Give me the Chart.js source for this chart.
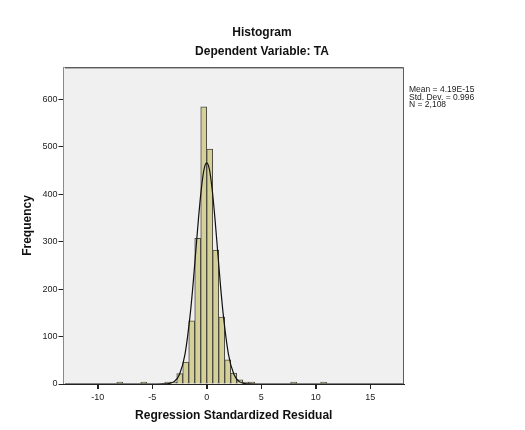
<!DOCTYPE html>
<html>
<head>
<meta charset="utf-8">
<script src="https://cdn.jsdelivr.net/npm/chart.js@4/dist/chart.umd.min.js"></script>
<style>
  html, body { margin: 0; padding: 0; background: #ffffff; }
  #wrap { width: 525px; height: 430px; position: relative; }
</style>
</head>
<body>
<div id="wrap"><canvas id="c" width="525" height="430"></canvas></div>
<script>
// ---- data ----
const binCenters = [-7.975, -5.775, -3.575, -3.025, -2.475, -1.925, -1.375, -0.825, -0.275,
                    0.275, 0.825, 1.375, 1.925, 2.475, 3.025, 3.575, 4.125, 7.975, 10.725];
const binCounts  = [1, 1, 2, 4, 22, 46, 133, 307, 584,
                    495, 282, 141, 51, 23, 9, 3, 2, 1, 1];
const curveX = [-13, -4.5, -4, -3.5, -3, -2.5, -2, -1.5, -1.25, -1, -0.75, -0.5, -0.25, 0,
                0.25, 0.5, 0.75, 1, 1.25, 1.5, 2, 2.5, 3, 3.5, 4, 4.5, 18];
const curveY = [0, 0, 0.2, 1, 5, 20, 62, 150, 211, 281, 350, 410, 452, 466,
                452, 410, 350, 281, 211, 150, 62, 20, 5, 1, 0.2, 0, 0];
const xTickValues = [-10, -5, 0, 5, 10, 15];
const yTickValues = [0, 100, 200, 300, 400, 500, 600];
const titleLines = ['Histogram', 'Dependent Variable: TA'];
const statsLines = ['Mean = 4.19E-15', 'Std. Dev. = 0.996', 'N = 2,108'];
const xTitle = 'Regression Standardized Residual';
const yTitle = 'Frequency';

const FONT = "'Liberation Sans', Arial, sans-serif";

const barData = binCenters.map((x, i) => ({ x: x, y: binCounts[i] }));
const lineData = curveX.map((x, i) => ({ x: x, y: curveY[i] }));

const decor = {
  id: 'decor',
  beforeDatasetsDraw(chart) {
    const { ctx, chartArea: a } = chart;
    ctx.save();
    ctx.fillStyle = '#f0f0f0';
    ctx.fillRect(a.left, a.top, a.right - a.left, a.bottom - a.top);
    ctx.restore();
  },
  afterDraw(chart) {
    const { ctx, chartArea: a } = chart;
    const xs = chart.scales.x;
    ctx.save();
    // x tick marks
    ctx.strokeStyle = '#222';
    ctx.lineWidth = 1;
    xTickValues.forEach(v => {
      const px = Math.round(xs.getPixelForValue(v)) + 0.5;
      ctx.beginPath();
      ctx.moveTo(px, Math.round(a.bottom));
      ctx.lineTo(px, Math.round(a.bottom) + 5);
      ctx.stroke();
    });
    // frame top & right
    ctx.strokeStyle = '#5c5c5c';
    ctx.beginPath();
    ctx.moveTo(Math.round(a.left) + 0.5, Math.round(a.top) + 0.5);
    ctx.lineTo(Math.round(a.right) - 0.5, Math.round(a.top) + 0.5);
    ctx.lineTo(Math.round(a.right) - 0.5, Math.round(a.bottom));
    ctx.stroke();
    ctx.strokeStyle = '#b0b0b0';
    ctx.beginPath();
    ctx.moveTo(Math.round(a.left) + 1, Math.round(a.top) + 1.5);
    ctx.lineTo(Math.round(a.right) - 1, Math.round(a.top) + 1.5);
    ctx.stroke();
    // titles
    ctx.fillStyle = '#111';
    ctx.textAlign = 'center';
    ctx.textBaseline = 'middle';
    ctx.font = 'bold 12px ' + FONT;
    ctx.fillText(titleLines[0], 262, 33);
    ctx.fillText(titleLines[1], 262, 52);
    // stats
    ctx.textAlign = 'left';
    ctx.font = '8.5px ' + FONT;
    ctx.fillStyle = '#222';
    statsLines.forEach((s, i) => ctx.fillText(s, a.right + 5, 90 + i * 7.5));
    ctx.restore();
  }
};

new Chart(document.getElementById('c'), {
  type: 'bar',
  data: {
    datasets: [
      {
        type: 'line',
        data: lineData,
        borderColor: '#111',
        borderWidth: 1.2,
        pointRadius: 0,
        cubicInterpolationMode: 'monotone',
        fill: false,
        order: 0
      },
      {
        type: 'bar',
        data: barData,
        backgroundColor: '#d5cf98',
        borderColor: '#4a4a42',
        borderWidth: 1,
        barPercentage: 1,
        categoryPercentage: 1,
        minBarLength: 2,
        order: 1
      }
    ]
  },
  options: {
    responsive: false,
    animation: false,
    layout: { padding: { top: 67, right: 121, bottom: 0, left: 0 } },
    plugins: { legend: { display: false }, tooltip: { enabled: false }, title: { display: false } },
    scales: {
      x: {
        type: 'linear',
        bounds: 'data',
        min: -13.14,
        max: 18.1,
        offset: false,
        afterFit(s) { s.height = 46; },
        afterBuildTicks(s) { s.ticks = xTickValues.map(v => ({ value: v })); },
        grid: { offset: false, drawOnChartArea: false, drawTicks: true, tickLength: 5, color: '#222' },
        border: { display: true, color: '#222', width: 1 },
        ticks: { font: { family: FONT, size: 9 }, color: '#222', padding: 3, maxRotation: 0 },
        title: { display: true, text: xTitle, font: { family: FONT, size: 12, weight: 'bold' }, color: '#111', padding: { top: 0, bottom: 6.8 } }
      },
      y: {
        type: 'linear',
        bounds: 'data',
        min: 0,
        max: 668,
        afterFit(s) { s.width = 63.5; },
        afterBuildTicks(s) { s.ticks = yTickValues.map(v => ({ value: v })); },
        grid: { offset: false, drawOnChartArea: false, drawTicks: true, tickLength: 5, color: '#222' },
        border: { display: true, color: '#222', width: 1 },
        ticks: { font: { family: FONT, size: 9 }, color: '#222', padding: 1 },
        title: { display: true, text: yTitle, font: { family: FONT, size: 12, weight: 'bold' }, color: '#111', padding: { top: 20.8, bottom: 0 } }
      }
    }
  },
  plugins: [decor]
});
</script>
</body>
</html>
